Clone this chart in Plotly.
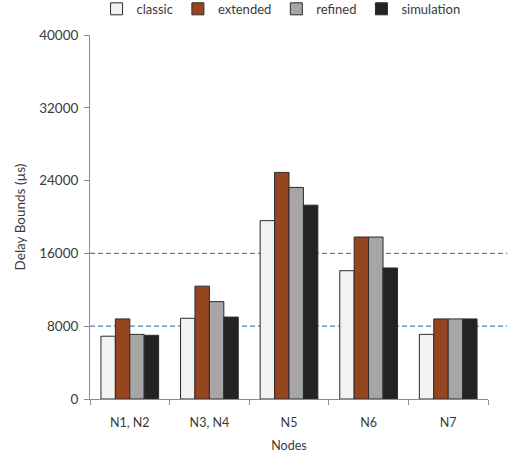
import plotly.graph_objects as go

categories = ["N1, N2", "N3, N4", "N5", "N6", "N7"]
classic = [6900, 8870, 19600, 14100, 7100]
extended = [8800, 12400, 24900, 17800, 8800]
refined = [7100, 10700, 23250, 17800, 8800]
simulation = [7000, 9000, 21300, 14400, 8800]
y_ticks = [0, 8000, 16000, 24000, 32000, 40000]
y_tick_labels = ["0", "8000", "16000", "24000", "32000", "40000"]
ref_lines = [8000, 16000]

series = [
    ("classic", classic, "#f2f2f2"),
    ("extended", extended, "#954620"),
    ("refined", refined, "#a6a6a6"),
    ("simulation", simulation, "#222424"),
]

fig = go.Figure()
for name, vals, color in series:
    fig.add_trace(go.Bar(
        name=name, x=categories, y=vals,
        marker=dict(color=color, line=dict(color="#2b2b2b", width=1)),
    ))

for v in ref_lines:
    fig.add_shape(type="line", xref="paper", yref="y", x0=0, x1=1.048, y0=v, y1=v,
                  line=dict(color="#4f81bd", width=1.2, dash="5px,3px"), layer="below")

font = "Lato"
fig.update_layout(
    width=511, height=462,
    margin=dict(l=90, r=23, t=35, b=63, autoexpand=False),
    paper_bgcolor="white", plot_bgcolor="white",
    barmode="group", bargap=0.275, bargroupgap=0,
    font=dict(family=font, size=12, color="#3a3a3a"),
    showlegend=True,
    legend=dict(orientation="h", x=0.55, xanchor="center", xref="container",
                y=1.113, yanchor="top", yref="paper",
                font=dict(size=13, color="#3a3a3a"),
                itemwidth=30, traceorder="normal"),
    xaxis=dict(
        showline=True, linecolor="#8c8c8c", linewidth=1,
        ticks="outside", tickson="boundaries", ticklen=5, tickcolor="#8c8c8c",
        ticklabelstandoff=12,
        title=dict(text="Nodes", font=dict(size=12.5), standoff=12),
        tickfont=dict(size=12.5),
    ),
    yaxis=dict(
        range=[0, 40000], tickvals=y_ticks, ticktext=y_tick_labels,
        showgrid=False, zeroline=False,
        showline=True, linecolor="#8c8c8c", linewidth=1,
        ticks="outside", ticklen=5, tickcolor="#8c8c8c",
        ticklabelstandoff=3,
        title=dict(text="Delay Bounds (µs)", font=dict(size=13.5), standoff=10),
        tickfont=dict(size=13.5),
    ),
)

fig.write_html("out.html", config={"displayModeBar": False},
               post_script="document.body.style.margin='0';document.body.style.overflow='hidden';")
